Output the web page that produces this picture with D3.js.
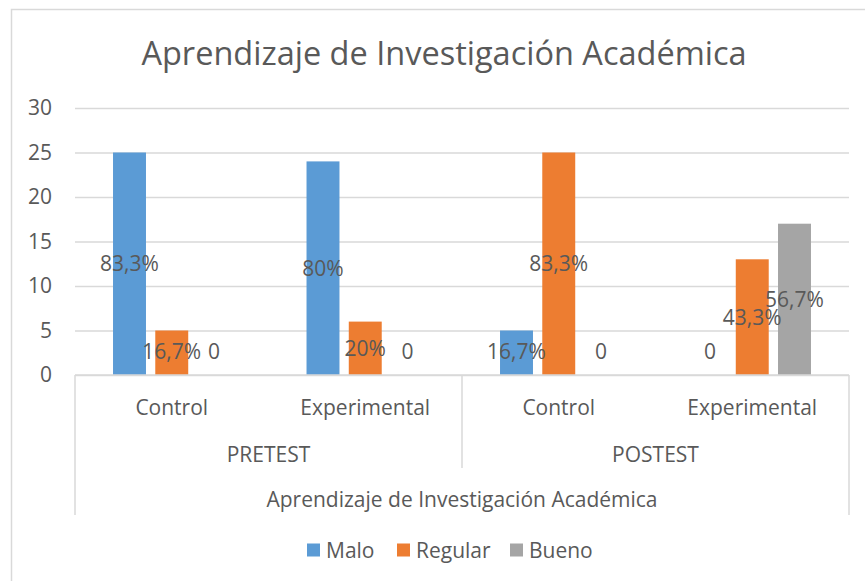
<!DOCTYPE html>
<html lang="es">
  <head>
    <meta charset="UTF-8" />
    <title>Aprendizaje de Investigación Académica</title>
    <script src="https://d3js.org/d3.v7.min.js"></script>
    <style>
      body {
        margin: 0;
        background: #fff;
      }
      svg {
        display: block;
        font-family: "Open Sans", sans-serif;
      }
      text {
        fill: #595959;
      }
    </style>
  </head>
  <body>
    <svg id="chart" width="865" height="581"></svg>

    <script>
      // datos
      const phases = ["PRETEST", "POSTEST"];
      const groups = ["Control", "Experimental", "Control", "Experimental"];
      const groupPhase = [0, 0, 1, 1];
      const series = ["Malo", "Regular", "Bueno"];
      const malo = [25, 24, 5, 0];
      const regular = [5, 6, 25, 13];
      const bueno = [0, 0, 0, 17];
      const maloLabels = ["83,3%", "80%", "16,7%", "0"];
      const regularLabels = ["16,7%", "20%", "83,3%", "43,3%"];
      const buenoLabels = ["0", "0", "0", "56,7%"];
      const yTicks = [0, 5, 10, 15, 20, 25, 30];
      const colors = ["#5b9bd5", "#ed7d31", "#a5a5a5"];
      const titleText = "Aprendizaje de Investigación Académica";
      const axisTitle = "Aprendizaje de Investigación Académica";

      const values = [malo, regular, bueno];
      const labels = [maloLabels, regularLabels, buenoLabels];

      const svg = d3.select("#chart");
      const plot = { left: 75, right: 849, top: 108, bottom: 375 };
      const fs = "21px";

      // borde exterior
      svg
        .append("rect")
        .attr("x", 11.5)
        .attr("y", 9.5)
        .attr("width", 900)
        .attr("height", 600)
        .attr("fill", "none")
        .attr("stroke", "#d9d9d9")
        .attr("stroke-width", 1.5);

      // titulo
      svg
        .append("text")
        .attr("x", 444)
        .attr("y", 65)
        .attr("text-anchor", "middle")
        .style("font-size", "32.5px")
        .text(titleText);

      // escalas
      const x0 = d3
        .scaleBand()
        .domain(d3.range(groups.length))
        .range([plot.left, plot.right])
        .padding(0);

      const x1 = d3
        .scaleBand()
        .domain(series)
        .range([0, x0.bandwidth()])
        .paddingInner(0.22)
        .paddingOuter(0.9);

      const y = d3.scaleLinear().domain([0, 30]).range([plot.bottom, plot.top]);

      // eje Y con lineas de cuadricula
      const yAxis = svg
        .append("g")
        .attr("transform", `translate(${plot.left},0)`)
        .call(
          d3
            .axisLeft(y)
            .tickValues(yTicks)
            .tickSize(-(plot.right - plot.left))
            .tickPadding(23)
        );
      yAxis.select(".domain").remove();
      yAxis
        .selectAll(".tick line")
        .attr("stroke", "#d9d9d9")
        .attr("stroke-width", 1.5);
      yAxis
        .selectAll(".tick text")
        .attr("fill", "#595959")
        .style("font-size", fs)
        .style("font-family", "'Open Sans', sans-serif");

      // barras
      const flat = [];
      series.forEach((s, si) => {
        values[si].forEach((v, gi) => {
          flat.push({ s, si, gi, v, label: labels[si][gi] });
        });
      });

      svg
        .append("g")
        .selectAll("rect")
        .data(flat.filter((d) => d.v > 0))
        .join("rect")
        .attr("x", (d) => x0(d.gi) + x1(d.s))
        .attr("y", (d) => y(d.v))
        .attr("width", x1.bandwidth())
        .attr("height", (d) => y(0) - y(d.v))
        .attr("fill", (d) => colors[d.si]);

      // eje categorias (multinivel)
      const axisG = svg.append("g").attr("stroke", "#d9d9d9").attr("stroke-width", 1.5);
      axisG
        .append("line")
        .attr("x1", plot.left)
        .attr("x2", plot.right)
        .attr("y1", plot.bottom)
        .attr("y2", plot.bottom);
      [plot.left, plot.right].forEach((xx) => {
        axisG
          .append("line")
          .attr("x1", xx)
          .attr("x2", xx)
          .attr("y1", plot.bottom)
          .attr("y2", 515);
      });
      axisG
        .append("line")
        .attr("x1", x0(2))
        .attr("x2", x0(2))
        .attr("y1", plot.bottom)
        .attr("y2", 468);

      // etiquetas de datos
      svg
        .append("g")
        .selectAll("text")
        .data(flat)
        .join("text")
        .attr("x", (d) => x0(d.gi) + x1(d.s) + x1.bandwidth() / 2)
        .attr("y", (d) => Math.min((y(d.v) + y(0)) / 2, y(0) - 24))
        .attr("dy", "0.36em")
        .attr("text-anchor", "middle")
        .style("font-size", fs)
        .text((d) => d.label);

      svg
        .append("g")
        .selectAll("text")
        .data(groups)
        .join("text")
        .attr("x", (d, i) => x0(i) + x0.bandwidth() / 2)
        .attr("y", 407)
        .attr("dy", "0.36em")
        .attr("text-anchor", "middle")
        .style("font-size", fs)
        .text((d) => d);

      svg
        .append("g")
        .selectAll("text")
        .data(phases)
        .join("text")
        .attr("x", (d, i) => {
          const idx = groupPhase.map((p, k) => (p === i ? k : -1)).filter((k) => k >= 0);
          return (x0(idx[0]) + x0(idx[idx.length - 1]) + x0.bandwidth()) / 2;
        })
        .attr("y", 454)
        .attr("dy", "0.36em")
        .attr("text-anchor", "middle")
        .style("font-size", fs)
        .text((d) => d);

      svg
        .append("text")
        .attr("x", (plot.left + plot.right) / 2)
        .attr("y", 499)
        .attr("dy", "0.36em")
        .attr("text-anchor", "middle")
        .style("font-size", fs)
        .text(axisTitle);

      // leyenda
      const legendX = [307, 397, 510];
      const legend = svg
        .append("g")
        .selectAll("g")
        .data(series)
        .join("g")
        .attr("transform", (d, i) => `translate(${legendX[i]},550)`);
      legend
        .append("rect")
        .attr("x", 0)
        .attr("y", -6.5)
        .attr("width", 13)
        .attr("height", 13)
        .attr("fill", (d, i) => colors[i]);
      legend
        .append("text")
        .attr("x", 19)
        .attr("y", 0)
        .attr("dy", "0.36em")
        .style("font-size", fs)
        .text((d) => d);
    </script>
  </body>
</html>
